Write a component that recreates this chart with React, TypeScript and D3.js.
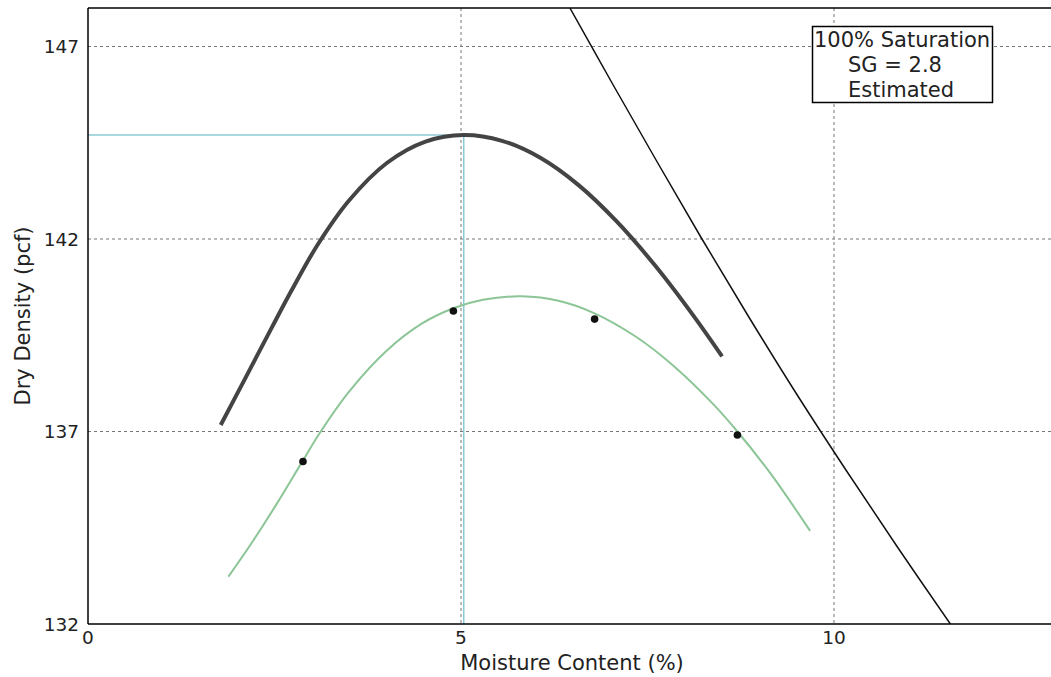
import React from "react";
import * as d3 from "d3";

// Fitted / corrected compaction curve (dark)
const fitX = [1.779, 2.113, 2.472, 2.728, 3.078, 3.499, 4.01, 4.524, 5.037, 5.55, 6.063, 6.576, 7.09, 7.602, 8.115, 8.5];
const fitY = [137.17, 138.4, 139.73, 140.66, 141.85, 143.0, 143.98, 144.53, 144.7, 144.55, 144.11, 143.4, 142.45, 141.31, 140.01, 138.95];

// Test curve (green)
const testX = [1.882, 2.216, 2.523, 2.882, 3.113, 3.497, 4.01, 4.473, 4.898, 5.293, 5.807, 6.319, 6.791, 7.346, 7.858, 8.371, 8.705, 9.141, 9.68];
const testY = [133.23, 134.17, 135.1, 136.25, 136.98, 138.03, 139.11, 139.8, 140.2, 140.42, 140.51, 140.39, 140.07, 139.46, 138.69, 137.73, 137.0, 135.93, 134.42];

// Measured points
const ptX = [2.882, 4.898, 6.791, 8.705];
const ptY = [136.22, 140.13, 139.92, 136.91];

// 100% saturation line (SG = 2.8)
const zavY = [148, 146, 144, 142, 140, 138, 136, 134, 132];
const zavX = [6.46, 7.04, 7.63, 8.23, 8.85, 9.49, 10.16, 10.85, 11.56];

// Optimum
const optX = 5.037;
const optY = 144.7;

const xTicks = [0, 5, 10];
const yTicks = [132, 137, 142, 147];
const legendLines = ["100% Saturation", "SG = 2.8", "Estimated"];

const W = 1051;
const H = 677;
const L = 88;
const T = 8;
const B = 624;

export default function App() {
  const x = d3.scaleLinear().domain([0, 13]).range([L, L + 13 * 74.6]);
  const y = d3.scaleLinear().domain([132, 148]).range([B, T]);
  const R = x(13);

  const smooth = d3
    .line<[number, number]>()
    .x((d) => x(d[0]))
    .y((d) => y(d[1]))
    .curve(d3.curveCatmullRom.alpha(0.5));

  const fit = fitX.map((v, i) => [v, fitY[i]] as [number, number]);
  const test = testX.map((v, i) => [v, testY[i]] as [number, number]);
  const zav = zavX.map((v, i) => [v, zavY[i]] as [number, number]);

  const font = "'DejaVu Sans', sans-serif";

  return (
    <svg
      width={W}
      height={H}
      style={{ position: "absolute", left: 0, top: 0, background: "#fff" }}
    >
      <defs>
        <clipPath id="plot">
          <rect x={L} y={T} width={R - L} height={B - T} />
        </clipPath>
      </defs>
      <rect x={0} y={0} width={W} height={H} fill="#fff" />
      {/* grid */}
      {xTicks.filter((t) => t > 0).map((t) => (
        <line
          key={"gx" + t}
          x1={x(t)}
          x2={x(t)}
          y1={T}
          y2={B}
          stroke="#777"
          strokeWidth={1}
          strokeDasharray="3,3"
        />
      ))}
      {yTicks.filter((t) => t > 132).map((t) => (
        <line
          key={"gy" + t}
          x1={L}
          x2={R}
          y1={y(t)}
          y2={y(t)}
          stroke="#777"
          strokeWidth={1}
          strokeDasharray="3,3"
        />
      ))}
      <g clipPath="url(#plot)">
        {/* optimum guides */}
        <line x1={x(0)} x2={x(optX)} y1={y(optY)} y2={y(optY)} stroke="#8ccbd6" strokeWidth={1.5} />
        <line x1={x(optX)} x2={x(optX)} y1={y(optY)} y2={y(132)} stroke="#8ccbd6" strokeWidth={1.5} />
        {/* saturation line */}
        <path d={smooth(zav) || ""} fill="none" stroke="#111" strokeWidth={1.5} />
        {/* fitted curve */}
        <path d={smooth(fit) || ""} fill="none" stroke="#444" strokeWidth={4} strokeLinecap="butt" />
        {/* test curve */}
        <path d={smooth(test) || ""} fill="none" stroke="#8cc596" strokeWidth={2} />
        {ptX.map((v, i) => (
          <circle key={"p" + i} cx={x(v)} cy={y(ptY[i])} r={3.8} fill="#111" />
        ))}
      </g>
      {/* frame */}
      <line x1={L} x2={L} y1={T} y2={B} stroke="#000" strokeWidth={1.5} />
      <line x1={L} x2={R} y1={B} y2={B} stroke="#000" strokeWidth={1.5} />
      <line x1={L} x2={R} y1={T} y2={T} stroke="#000" strokeWidth={1.5} />
      {/* tick labels */}
      {xTicks.map((t) => (
        <text
          key={"tx" + t}
          x={x(t)}
          y={B + 20}
          textAnchor="middle"
          fontFamily={font}
          fontSize={18.5}
          fill="#222"
        >
          {t}
        </text>
      ))}
      {yTicks.map((t) => (
        <text
          key={"ty" + t}
          x={L - 9}
          y={y(t) + 6.5}
          textAnchor="end"
          fontFamily={font}
          fontSize={18.5}
          fill="#222"
        >
          {t}
        </text>
      ))}
      {/* axis labels */}
      <text
        x={572}
        y={670}
        textAnchor="middle"
        fontFamily={font}
        fontSize={21}
        fill="#222"
      >
        Moisture Content (%)
      </text>
      <text
        transform={`translate(30, ${(T + B) / 2}) rotate(-90)`}
        textAnchor="middle"
        fontFamily={font}
        fontSize={21}
        fill="#222"
      >
        Dry Density (pcf)
      </text>
      {/* legend box */}
      <rect x={812.5} y={26.5} width={180} height={76} fill="#fff" stroke="#000" strokeWidth={1.5} />
      {legendLines.map((s, i) => (
        <text
          key={"lg" + i}
          x={i === 0 ? 814 : 848}
          y={47 + i * 25}
          fontFamily={font}
          fontSize={21}
          fill="#222"
        >
          {s}
        </text>
      ))}
    </svg>
  );
}
